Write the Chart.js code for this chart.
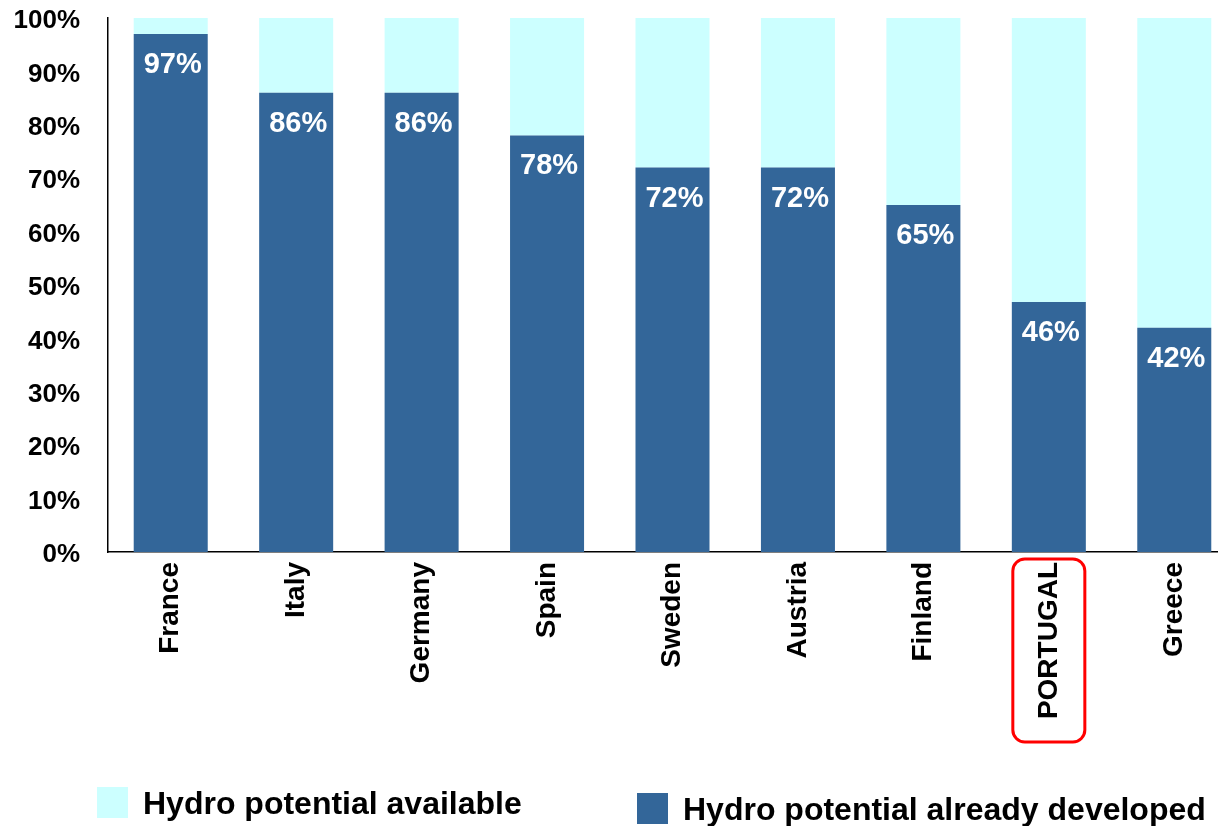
<!DOCTYPE html>
<html>
<head>
<meta charset="utf-8">
<script src="https://cdn.jsdelivr.net/npm/chart.js@4/dist/chart.umd.min.js"></script>
<style>
    html, body { margin: 0; padding: 0; background: #fff; overflow: hidden; }
    #wrap { position: relative; width: 1218px; height: 826px; overflow: hidden; }
    #chart { position: absolute; left: 0; top: 0; }
    .legend-item { position: absolute; height: 31px; }
    .legend-box { position: absolute; left: 0; top: 0; width: 31px; height: 31px; }
    .legend-text {
        position: absolute; left: 46px; top: 1px; white-space: nowrap;
        font: bold 32px "Liberation Sans", Arial, sans-serif; line-height: 31px; color: #000;
    }
</style>
</head>
<body>
<div id="wrap">
    <canvas id="chart" width="1237" height="826"></canvas>
    <div id="legend"></div>
</div>
<script>
// Data ---------------------------------------------------------------------------------

var COUNTRIES = ['France', 'Italy', 'Germany', 'Spain', 'Sweden', 'Austria', 'Finland', 'PORTUGAL', 'Greece'];
var DEVELOPED = [97, 86, 86, 78, 72, 72, 65, 46.8, 42];
var AVAILABLE = DEVELOPED.map(function (v) { return 100 - v; });
var Y_TICKS = [0, 10, 20, 30, 40, 50, 60, 70, 80, 90, 100];

var HIGHLIGHT = 'PORTUGAL';

// Styles -------------------------------------------------------------------------------

var DARK_BLUE = '#336699';
var LIGHT_CYAN = '#CCFFFF';
var FONT_FAMILY = '"Liberation Sans", Arial, sans-serif';

// Plugins ------------------------------------------------------------------------------

var barLabels = {
    id: 'barLabels',
    afterDatasetsDraw: function (chart) {
        var ctx = chart.ctx;
        var meta = chart.getDatasetMeta(0);
        ctx.save();
        ctx.fillStyle = '#fff';
        ctx.font = 'bold 29px ' + FONT_FAMILY;
        ctx.textAlign = 'center';
        ctx.textBaseline = 'middle';
        meta.data.forEach(function (bar, i) {
            var v = chart.data.datasets[0].data[i];
            ctx.fillText(Math.floor(v) + '%', bar.x + 2, bar.y + 31);
        });
        ctx.restore();
    }
};

var highlightBox = {
    id: 'highlightBox',
    afterDraw: function (chart) {
        var i = chart.data.labels.indexOf(HIGHLIGHT);
        if (i < 0) return;
        var bar = chart.getDatasetMeta(0).data[i];
        var ctx = chart.ctx;
        var top = chart.chartArea.bottom + 7;
        ctx.save();
        ctx.strokeStyle = '#ff0000';
        ctx.lineWidth = 3;
        ctx.beginPath();
        ctx.roundRect(bar.x - bar.width / 2 + 1, top, bar.width - 2, 183, 12);
        ctx.stroke();
        ctx.restore();
    }
};

// Chart --------------------------------------------------------------------------------

var chart = new Chart(document.getElementById('chart').getContext('2d'), {
    type: 'bar',
    data: {
        labels: COUNTRIES,
        datasets: [{
            label: 'Hydro potential already developed',
            data: DEVELOPED,
            backgroundColor: DARK_BLUE,
            categoryPercentage: 1,
            barPercentage: 0.59
        }, {
            label: 'Hydro potential available',
            data: AVAILABLE,
            backgroundColor: LIGHT_CYAN,
            categoryPercentage: 1,
            barPercentage: 0.59
        }]
    },
    options: {
        responsive: false,
        animation: false,
        layout: { padding: { top: 18, right: 0, left: 0, bottom: 0 } },
        plugins: {
            legend: { display: false },
            tooltip: { enabled: false }
        },
        scales: {
            x: {
                stacked: true,
                grid: { display: false, drawTicks: false },
                border: { display: true, color: '#000', width: 1.5 },
                ticks: {
                    color: '#000',
                    font: { family: FONT_FAMILY, size: 28, weight: 'bold' },
                    minRotation: 90,
                    maxRotation: 90,
                    autoSkip: false,
                    padding: 10
                },
                afterFit: function (scale) {
                    scale.height = 274;
                    scale.paddingLeft = 0;
                    scale.paddingRight = 0;
                }
            },
            y: {
                stacked: true,
                min: 0,
                max: 100,
                grid: { display: false, drawTicks: false },
                border: { display: true, color: '#000', width: 1.5 },
                afterBuildTicks: function (scale) {
                    scale.ticks = Y_TICKS.map(function (v) { return { value: v }; });
                },
                ticks: {
                    color: '#000',
                    font: { family: FONT_FAMILY, size: 26, weight: 'bold' },
                    padding: 28,
                    labelOffset: 3,
                    callback: function (v) { return v + '%'; }
                },
                afterFit: function (scale) {
                    scale.width = 108;
                    scale.paddingTop = 0;
                    scale.paddingBottom = 0;
                }
            }
        }
    },
    plugins: [barLabels, highlightBox]
});

// Legend (built from the chart's datasets) ---------------------------------------------

var LEGEND_SPOTS = [[97, 787], [637, 793]];
var legendEl = document.getElementById('legend');
[1, 0].forEach(function (di, k) {
    var ds = chart.data.datasets[di];
    var item = document.createElement('div');
    item.className = 'legend-item';
    item.style.left = LEGEND_SPOTS[k][0] + 'px';
    item.style.top = LEGEND_SPOTS[k][1] + 'px';
    var box = document.createElement('div');
    box.className = 'legend-box';
    box.style.background = ds.backgroundColor;
    var text = document.createElement('div');
    text.className = 'legend-text';
    text.textContent = ds.label;
    item.appendChild(box);
    item.appendChild(text);
    legendEl.appendChild(item);
});
</script>
</body>
</html>
